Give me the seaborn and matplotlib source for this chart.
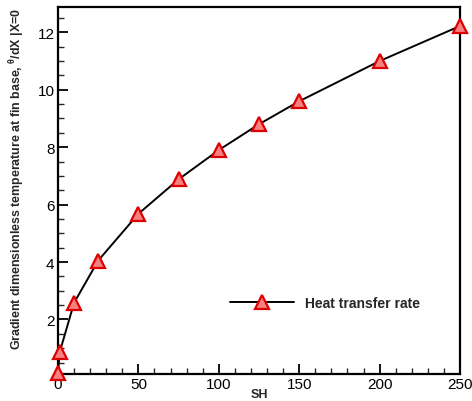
import matplotlib
matplotlib.use("Agg")
import matplotlib.pyplot as plt
from matplotlib.ticker import MultipleLocator
import seaborn as sns
import pandas as pd

sh = [0, 1, 10, 25, 50, 75, 100, 125, 150, 200, 250]
rate = [0.12, 0.85, 2.58, 4.05, 5.68, 6.88, 7.9, 8.8, 9.6, 11.0, 12.22]
series_name = "Heat transfer rate"

sns.set_style("ticks")
plt.rcParams["font.family"] = ["Liberation Sans", "DejaVu Sans"]
plt.rcParams["mathtext.fontset"] = "custom"
plt.rcParams["mathtext.rm"] = "Liberation Sans:bold"
plt.rcParams["mathtext.it"] = "Liberation Sans:bold"
plt.rcParams["mathtext.bf"] = "Liberation Sans:bold"

df = pd.DataFrame({"SH": sh, "rate": rate, "series": series_name})

fig = plt.figure(figsize=(4.72, 4.02), dpi=100)
ax = fig.add_axes([58 / 472, 1 - 375 / 402, 402 / 472, 367.5 / 402])

sns.lineplot(data=df, x="SH", y="rate", hue="series", palette=["black"],
             marker="^", markersize=9.5, markerfacecolor=(0.97, 0.5, 0.5),
             markeredgecolor="#dd0000", markeredgewidth=1.6, linewidth=1.4,
             ax=ax, clip_on=False, zorder=5)

ax.set_xlim(0, 250)
ax.set_ylim(0.1, 12.9)
ax.xaxis.set_major_locator(MultipleLocator(50))
ax.xaxis.set_minor_locator(MultipleLocator(10))
ax.yaxis.set_major_locator(MultipleLocator(2))
ax.yaxis.set_minor_locator(MultipleLocator(0.5))
ax.set_yticks([2, 4, 6, 8, 10, 12])
ax.tick_params(axis="both", which="major", direction="in", length=7, width=1.3,
               labelsize=11, pad=2.5, colors="black")
ax.tick_params(axis="both", which="minor", direction="in", length=4, width=1.0)
for s in ax.spines.values():
    s.set_linewidth(1.6)
    s.set_color("black")
    s.set_visible(True)

ax.set_xlabel("SH", fontsize=9, fontweight="bold")
ax.xaxis.set_label_coords(0.5, -0.039)
ax.set_ylabel(r"Gradient dimensionless temperature at fin base, $^{\theta}$/dX |X=0",
              fontsize=8.9, fontweight="bold")
ax.yaxis.set_label_coords(-0.077, 0.533)

leg = ax.legend(loc="center left", bbox_to_anchor=(0.428, 0.193), frameon=False,
                borderpad=0, borderaxespad=0, handlelength=4.6, handletextpad=0.8,
                prop={"weight": "bold", "size": 10})

fig.savefig("out.png", dpi=100)
